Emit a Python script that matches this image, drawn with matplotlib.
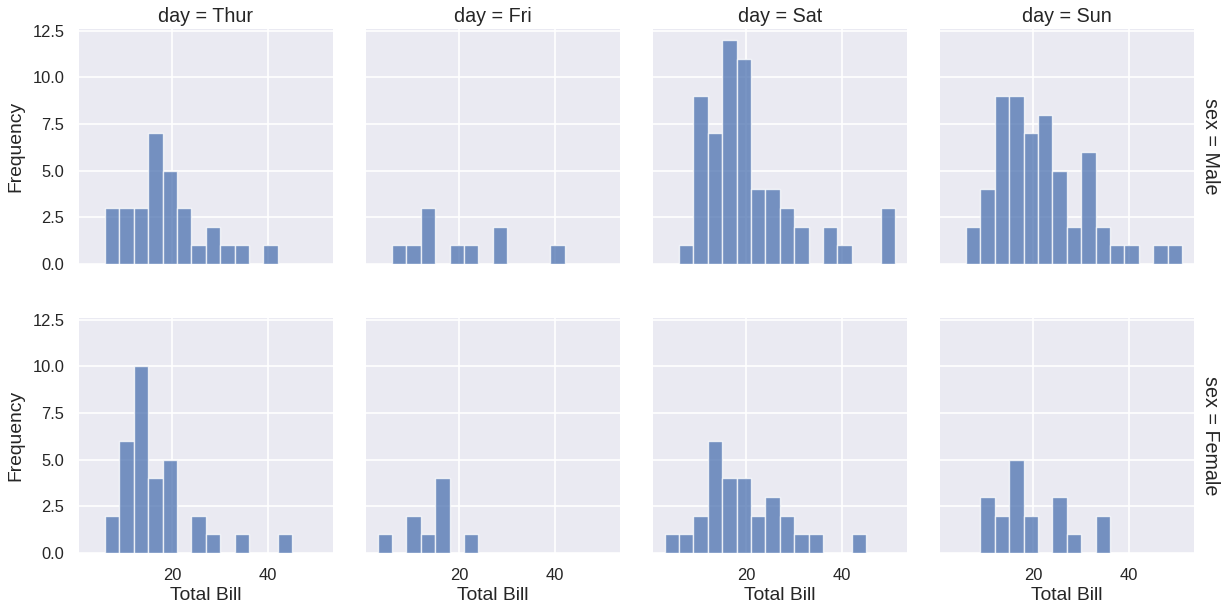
import matplotlib
matplotlib.use("Agg")
import matplotlib.pyplot as plt
import numpy as np

days = ["Thur", "Fri", "Sat", "Sun"]
sexes = ["Male", "Female"]
bin_start = 3.07
bin_width = 3.0

counts_male_thur = [0, 3, 3, 3, 7, 5, 3, 1, 2, 1, 1, 0, 1, 0, 0, 0]
counts_male_fri = [0, 1, 1, 3, 0, 1, 1, 0, 2, 0, 0, 0, 1, 0, 0, 0]
counts_male_sat = [0, 1, 9, 7, 12, 11, 4, 4, 3, 2, 0, 2, 1, 0, 0, 3]
counts_male_sun = [0, 2, 4, 9, 9, 7, 8, 5, 2, 6, 2, 1, 1, 0, 1, 1]
counts_female_thur = [0, 2, 6, 10, 4, 5, 0, 2, 1, 0, 1, 0, 0, 1, 0, 0]
counts_female_fri = [1, 0, 2, 1, 4, 0, 1, 0, 0, 0, 0, 0, 0, 0, 0, 0]
counts_female_sat = [1, 1, 2, 6, 4, 4, 2, 3, 2, 1, 1, 0, 0, 1, 0, 0]
counts_female_sun = [0, 0, 3, 2, 5, 2, 0, 3, 1, 0, 2, 0, 0, 0, 0, 0]

counts = {
    ("Male", "Thur"): counts_male_thur,
    ("Male", "Fri"): counts_male_fri,
    ("Male", "Sat"): counts_male_sat,
    ("Male", "Sun"): counts_male_sun,
    ("Female", "Thur"): counts_female_thur,
    ("Female", "Fri"): counts_female_fri,
    ("Female", "Sat"): counts_female_sat,
    ("Female", "Sun"): counts_female_sun,
}

x_ticks = [20, 40]
y_ticks = [0.0, 2.5, 5.0, 7.5, 10.0, 12.5]

text_color = "#262626"
plt.rcParams["font.family"] = ["Liberation Sans", "DejaVu Sans"]
plt.rcParams["text.color"] = text_color
plt.rcParams["axes.labelcolor"] = text_color
plt.rcParams["xtick.color"] = text_color
plt.rcParams["ytick.color"] = text_color

W, H = 1224, 614
fig = plt.figure(figsize=(W / 100, H / 100), dpi=100)

ax_left0 = 79
ax_w = 253.6
ax_step = 287
row_tops = [29, 318]
ax_h = 235

bar_color = "#4C72B0"
ref = None
for r, sex in enumerate(sexes):
    for c, day in enumerate(days):
        l = (ax_left0 + c * ax_step) / W
        b = 1 - (row_tops[r] + ax_h) / H
        if ref is None:
            ax = fig.add_axes([l, b, ax_w / W, ax_h / H])
            ref = ax
        else:
            ax = fig.add_axes([l, b, ax_w / W, ax_h / H], sharex=ref, sharey=ref)
        ax.set_facecolor("#EAEAF2")
        for s in ax.spines.values():
            s.set_visible(False)
        ax.grid(True, color="white", linewidth=1.2)
        ax.set_axisbelow(True)
        cts = counts[(sex, day)]
        edges = bin_start + bin_width * np.arange(len(cts))
        ax.bar(edges, cts, width=bin_width, align="edge", color=bar_color,
               alpha=0.75, edgecolor="white", linewidth=1.0)
        ax.tick_params(axis="both", length=0, labelsize=11.9, pad=10.5)
        ax.set_xticks(x_ticks)
        ax.set_yticks(y_ticks)
        if r == 0:
            ax.set_title(f"day = {day}", fontsize=14.2, pad=4.8, color=text_color)
            ax.tick_params(axis="x", labelbottom=False)
        else:
            ax.set_xlabel("Total Bill", fontsize=13.9, labelpad=3)
        if c == 0:
            ax.set_ylabel("Frequency", fontsize=13.9, labelpad=6)
            ax.set_yticklabels([f"{v:.1f}" for v in y_ticks])
        else:
            ax.tick_params(axis="y", labelleft=False)
        if c == 3:
            ax.text(1.028, 0.5, f"sex = {sex}", rotation=-90, transform=ax.transAxes,
                    ha="left", va="center", fontsize=14.2, color=text_color)

ref.set_ylim(0, 12.6)

fig.savefig("out.png", dpi=100)
